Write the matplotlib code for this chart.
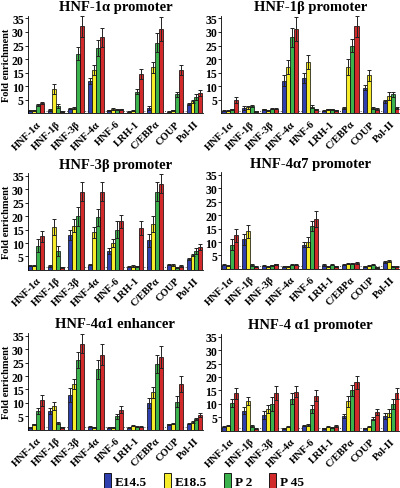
import numpy as np
import matplotlib
matplotlib.use("Agg")
import matplotlib.pyplot as plt
from matplotlib.patches import Patch

plt.rcParams['font.family'] = ['Liberation Serif', 'DejaVu Serif']
plt.rcParams['font.weight'] = 'bold'

groups = ['HNF-1α', 'HNF-1β', 'HNF-3β', 'HNF-4α', 'HNF-6',
          'LRH-1', 'C/EBPα', 'COUP', 'Pol-II']
series = ['E14.5', 'E18.5', 'P 2', 'P 45']
colors = ['#2f3fae', '#f7ec2a', '#3cb24c', '#d22a2a']

titles = ['HNF-1α promoter', 'HNF-1β promoter', 'HNF-3β promoter',
          'HNF-4α7 promoter', 'HNF-4α1 enhancer', 'HNF-4 α1 promoter']

# values per panel: rows = series (E14.5, E18.5, P 2, P 45), cols = groups
hnf1a_vals = [[1.0, 1.3, 1.8, 12.0, 1.2, 0.7, 2.0, 0.7, 3.5],
              [1.2, 9.0, 2.0, 16.0, 1.6, 1.0, 17.0, 1.1, 4.5],
              [3.0, 2.8, 22.0, 24.0, 1.4, 8.0, 26.0, 7.0, 6.0],
              [3.8, 0.8, 32.0, 28.0, 1.5, 14.5, 31.0, 16.0, 7.5]]
hnf1a_errs = [[0.2, 0.3, 0.3, 1.0, 0.2, 0.2, 0.7, 0.2, 0.4],
              [0.2, 2.0, 0.3, 2.0, 0.3, 0.2, 2.0, 0.2, 0.6],
              [0.4, 0.8, 2.5, 3.0, 0.2, 1.0, 3.5, 0.8, 1.0],
              [0.4, 0.2, 4.0, 3.5, 0.3, 2.0, 4.5, 2.0, 1.0]]

hnf1b_vals = [[1.0, 2.0, 1.5, 12.0, 13.0, 1.0, 2.0, 9.5, 4.5],
              [1.0, 2.3, 1.2, 17.0, 19.0, 1.5, 17.0, 14.0, 6.5],
              [1.5, 2.8, 1.8, 28.0, 2.5, 1.5, 25.0, 2.0, 7.0],
              [5.0, 0.8, 1.8, 31.0, 1.5, 1.2, 32.0, 1.6, 2.0]]
hnf1b_errs = [[0.2, 0.6, 0.2, 2.0, 1.8, 0.2, 0.3, 1.0, 0.5],
              [0.2, 0.5, 0.2, 2.5, 2.5, 0.2, 3.0, 2.0, 1.5],
              [0.2, 0.4, 0.3, 3.5, 0.5, 0.2, 2.5, 0.3, 1.0],
              [1.0, 0.2, 0.3, 4.5, 0.3, 0.2, 4.0, 0.3, 0.3]]

hnf3b_vals = [[1.5, 1.5, 13.0, 2.0, 7.0, 1.2, 11.0, 2.0, 4.0],
              [1.5, 16.0, 16.5, 14.0, 10.0, 1.5, 17.0, 1.8, 5.5],
              [9.0, 7.0, 20.0, 19.5, 15.0, 1.3, 29.0, 0.8, 7.0],
              [12.5, 1.0, 29.0, 29.0, 18.0, 15.5, 32.0, 1.5, 8.5]]
hnf3b_errs = [[0.2, 0.3, 2.0, 0.3, 1.0, 0.3, 2.5, 0.3, 0.4],
              [0.2, 3.0, 2.5, 2.0, 1.5, 0.3, 3.0, 0.3, 0.5],
              [2.5, 2.0, 3.5, 3.0, 3.0, 0.3, 3.5, 0.2, 1.0],
              [2.0, 0.2, 3.5, 3.5, 2.5, 2.5, 3.5, 0.3, 1.0]]

hnf4a7_vals = [[1.5, 11.0, 1.2, 0.8, 9.0, 1.5, 1.5, 0.8, 2.5],
               [1.2, 14.0, 0.8, 1.0, 10.0, 1.0, 2.0, 1.2, 3.0],
               [9.0, 1.5, 1.3, 1.5, 16.0, 1.5, 2.0, 1.5, 1.0],
               [12.5, 0.8, 1.7, 1.5, 18.5, 1.0, 2.3, 0.7, 0.8]]
hnf4a7_errs = [[0.2, 2.0, 0.2, 0.2, 1.0, 0.3, 0.2, 0.2, 0.3],
               [0.2, 2.5, 0.2, 0.2, 2.0, 0.2, 0.3, 0.2, 0.3],
               [2.0, 0.3, 0.2, 0.2, 2.0, 0.2, 0.3, 0.2, 0.2],
               [2.5, 0.2, 0.2, 0.2, 3.0, 0.2, 0.3, 0.2, 0.2]]

hnf4a1_enh_vals = [[1.0, 7.0, 13.0, 1.2, 0.8, 0.8, 10.0, 2.0, 2.3],
                   [2.0, 9.0, 17.0, 1.0, 1.0, 1.5, 14.0, 2.3, 3.0],
                   [7.0, 2.5, 26.0, 22.5, 5.0, 1.2, 24.5, 10.5, 4.0],
                   [11.0, 1.0, 32.0, 28.0, 7.5, 1.2, 27.0, 17.0, 5.5]]
hnf4a1_enh_errs = [[0.2, 1.0, 2.5, 0.2, 0.2, 0.2, 2.0, 0.3, 0.3],
                   [0.3, 1.5, 2.0, 0.2, 0.2, 0.2, 2.0, 0.3, 0.3],
                   [1.0, 0.4, 3.0, 3.5, 1.0, 0.2, 3.5, 2.0, 0.4],
                   [2.0, 0.2, 3.5, 4.0, 1.2, 0.2, 4.0, 3.0, 0.6]]

hnf4a1_pro_vals = [[1.5, 7.5, 6.0, 1.0, 1.8, 1.0, 5.5, 1.0, 5.5],
                   [1.8, 11.0, 8.0, 1.5, 2.2, 1.5, 11.0, 1.5, 6.5],
                   [10.5, 1.8, 10.0, 12.0, 8.0, 1.2, 15.0, 4.5, 10.0],
                   [14.0, 0.8, 14.0, 14.5, 13.0, 1.8, 18.0, 7.0, 14.0]]
hnf4a1_pro_errs = [[0.2, 1.2, 1.5, 0.2, 0.2, 0.2, 0.8, 0.2, 1.0],
                   [0.2, 1.5, 1.5, 0.2, 0.3, 0.2, 2.0, 0.2, 1.5],
                   [1.5, 0.3, 2.5, 2.0, 1.5, 0.2, 2.0, 0.5, 1.8],
                   [2.0, 0.2, 2.5, 2.0, 2.0, 0.3, 2.5, 1.0, 2.0]]

panels = [(hnf1a_vals, hnf1a_errs), (hnf1b_vals, hnf1b_errs),
          (hnf3b_vals, hnf3b_errs), (hnf4a7_vals, hnf4a7_errs),
          (hnf4a1_enh_vals, hnf4a1_enh_errs), (hnf4a1_pro_vals, hnf4a1_pro_errs)]

fig = plt.figure(figsize=(4.0, 4.89), dpi=100)

# axes rectangles [left, bottom, width, height] in figure fraction
rects = [[0.070, 0.766, 0.437, 0.200], [0.553, 0.766, 0.445, 0.200],
         [0.070, 0.446, 0.437, 0.198], [0.553, 0.448, 0.445, 0.198],
         [0.070, 0.119, 0.437, 0.198], [0.553, 0.117, 0.445, 0.198]]

x = np.arange(len(groups))
w = 0.2

for i, (vals, errs) in enumerate(panels):
    ax = fig.add_axes(rects[i])
    for s in range(4):
        ax.bar(x + (s - 1.5) * w, vals[s], w, yerr=errs[s], color=colors[s],
               edgecolor='black', linewidth=0.5,
               error_kw=dict(elinewidth=0.7, capsize=1.5, capthick=0.7, ecolor='#222222'))
    ax.axhline(1, color='#555555', linestyle=':', linewidth=0.7, zorder=0)
    ax.set_xlim(-0.42, 8.42)
    ax.set_ylim(0, 36)
    ax.set_yticks([5, 10, 15, 20, 25, 30, 35])
    ax.tick_params(axis='y', labelsize=8.5, length=2, width=0.6, pad=1)
    ax.set_xticks(x)
    ax.set_xticklabels(groups, rotation=45, ha='right', va='top',
                       rotation_mode='anchor', fontsize=7.5)
    ax.tick_params(axis='x', length=0, pad=4)
    ax.spines['top'].set_visible(False)
    ax.spines['right'].set_visible(False)
    ax.spines['left'].set_linewidth(0.6)
    ax.spines['bottom'].set_linewidth(0.6)
    ax.set_title(titles[i], fontsize=10.5, fontweight='bold', pad=4)
    if i % 2 == 0:
        ax.set_ylabel('Fold enrichment', fontsize=7.5, fontweight='bold', labelpad=1)

handles = [Patch(facecolor=c, edgecolor='black', linewidth=0.6) for c in colors]
fig.legend(handles, series, loc='center', bbox_to_anchor=(0.51, 0.015),
           ncol=4, frameon=False, fontsize=9.5, handlelength=0.5, handleheight=1.3,
           handletextpad=0.3, columnspacing=1.3)

fig.savefig('out.png', dpi=100)
